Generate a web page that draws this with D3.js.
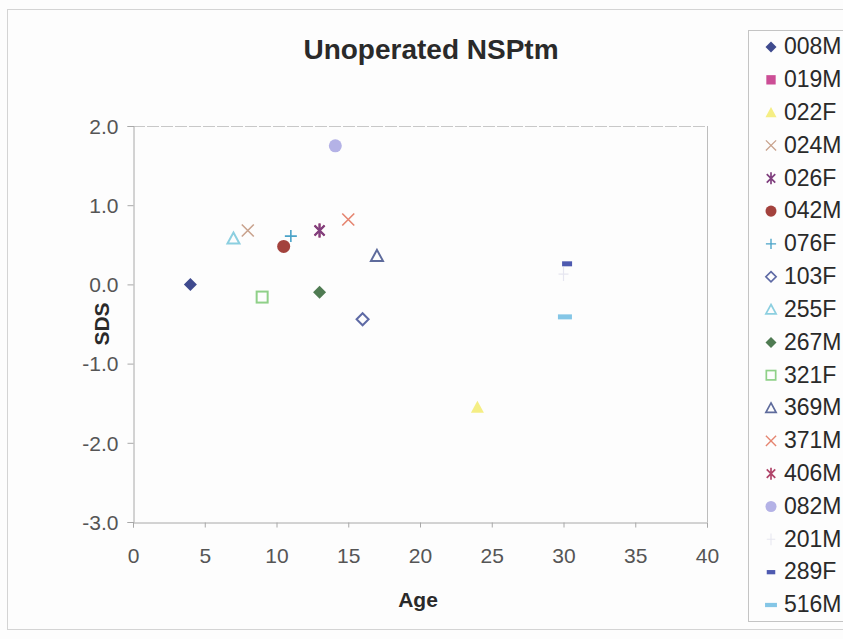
<!DOCTYPE html>
<html><head><meta charset="utf-8">
<script src="https://cdn.jsdelivr.net/npm/d3@7"></script>
<style>body{margin:0;background:#fff;}svg{display:block;font-family:"Liberation Sans",Arial,sans-serif;}</style>
</head><body><svg id="c" width="843" height="639"></svg>
<script>
const seriesNames = ["008M","019M","022F","024M","026F","042M","076F","103F","255F","267M","321F","369M","371M","406M","082M","201M","289F","516M"];
const seriesAge = [[4],[],[24],[8],[13],[10.5],[11],[16],[7],[13],[9],[17],[15],[13],[14.1],[30],[30.25],[30.1]];
const seriesSDS = [[0.0],[],[-1.55],[0.68],[0.68],[0.48],[0.61],[-0.44],[0.58],[-0.1],[-0.16],[0.36],[0.82],[0.68],[1.75],[0.13],[0.26],[-0.41]];
const seriesShape = ["diamond","square","triangle","x","star","circle","plus","diamondOpen","triangleOpen","diamond","squareOpen","triangleOpen","x","star","circle","plusFaint","dash","dashLong"];
const seriesColor = ["#3f4a8e","#cc4e96","#f5ee84","#c9a38e","#80407f","#a3423d","#4aa3c8","#5e6aa5","#8ccfe0","#4f7b52","#8fd088","#5e6b9c","#e58570","#b0456a","#b4b2e6","#e6e6f0","#4e5ab0","#84c6e6"];
const xTicks = [0,5,10,15,20,25,30,35,40];
const yTicks = [2.0,1.0,0.0,-1.0,-2.0,-3.0];

const svg = d3.select("#c");
svg.append("rect").attr("x",0).attr("y",0).attr("width",843).attr("height",639).attr("fill","#fdfdfd");
svg.append("rect").attr("x",7.5).attr("y",9.5).attr("width",850).attr("height",620).attr("fill","#fdfdfd").attr("stroke","#d4d4d4");

const L=133,R=707,T=126,B=522;
const x = d3.scaleLinear().domain([0,40]).range([L,R]);
const y = d3.scaleLinear().domain([-3,2]).range([B,T]);

svg.append("line").attr("x1",L).attr("x2",R).attr("y1",T+0.5).attr("y2",T+0.5).attr("stroke","#c8c8c8").attr("stroke-dasharray","12,2");
svg.append("line").attr("x1",R+0.5).attr("x2",R+0.5).attr("y1",T).attr("y2",B).attr("stroke","#bdbdbd");

const fmtY = d => d3.format(".1f")(d).replace("\u2212","-");
const xa = d3.axisBottom(x).tickValues(xTicks).tickSize(5).tickPadding(21).tickFormat(d3.format("d"));
const gx = svg.append("g").attr("transform",`translate(0,${B+0.5})`).call(xa);
const ya = d3.axisLeft(y).tickValues(yTicks).tickSize(6).tickPadding(9).tickFormat(fmtY);
const gy = svg.append("g").attr("transform",`translate(${L+0.5},0)`).call(ya);
[gx,gy].forEach(g=>{
  g.select(".domain").attr("stroke","#a8a8a8");
  g.selectAll(".tick line").attr("stroke","#a8a8a8");
  g.selectAll(".tick text").attr("fill","#555").attr("font-size","21px").attr("font-family","Liberation Sans, Arial, sans-serif");
});
gy.selectAll(".tick text").attr("dy","0.35em");

svg.append("text").attr("x",431).attr("y",59).attr("text-anchor","middle").attr("font-weight","bold").attr("font-size","28px").attr("fill","#2a2a2a").text("Unoperated NSPtm");
svg.append("text").attr("x",418).attr("y",607).attr("text-anchor","middle").attr("font-weight","bold").attr("font-size","21px").attr("fill","#2a2a2a").text("Age");
svg.append("text").attr("transform","translate(109,324) rotate(-90)").attr("text-anchor","middle").attr("font-weight","bold").attr("font-size","21px").attr("fill","#2a2a2a").text("SDS");

function drawMarker(g, shape, color){
  switch(shape){
    case "diamond": g.append("path").attr("d","M0,-6.5L6.5,0L0,6.5L-6.5,0Z").attr("fill",color); break;
    case "diamondOpen": g.append("path").attr("d","M0,-6L6,0L0,6L-6,0Z").attr("fill","none").attr("stroke",color).attr("stroke-width",2); break;
    case "square": g.append("rect").attr("x",-5.5).attr("y",-5.5).attr("width",11).attr("height",11).attr("fill",color); break;
    case "squareOpen": g.append("rect").attr("x",-5.5).attr("y",-5.5).attr("width",11).attr("height",11).attr("fill","none").attr("stroke",color).attr("stroke-width",2); break;
    case "triangle": g.append("path").attr("d","M0,-6.5L6.5,5.5L-6.5,5.5Z").attr("fill",color); break;
    case "triangleOpen": g.append("path").attr("d","M0,-6L6,5L-6,5Z").attr("fill","none").attr("stroke",color).attr("stroke-width",2); break;
    case "x": g.append("path").attr("d","M-6,-6L6,6M6,-6L-6,6").attr("stroke",color).attr("stroke-width",1.6); break;
    case "star": g.append("path").attr("d","M-5,-5L5,5M5,-5L-5,5M0,-7L0,7").attr("stroke",color).attr("stroke-width",2); break;
    case "plus": g.append("path").attr("d","M-6,0L6,0M0,-6L0,6").attr("stroke",color).attr("stroke-width",1.6); break;
    case "plusFaint": g.append("path").attr("d","M-5,0L5,0M0,-7L0,7").attr("stroke",color).attr("stroke-width",1.2); break;
    case "circle": g.append("circle").attr("r",6.5).attr("fill",color); break;
    case "dash": g.append("rect").attr("x",-5).attr("y",-2.5).attr("width",10).attr("height",5).attr("fill",color); break;
    case "dashLong": g.append("rect").attr("x",-7).attr("y",-2.5).attr("width",14).attr("height",5).attr("fill",color); break;
  }
}

d3.range(seriesNames.length).reverse().forEach(i=>{
  seriesAge[i].forEach((a,j)=>{
    const g = svg.append("g").attr("transform",`translate(${x(a)},${y(seriesSDS[i][j])})`);
    drawMarker(g, seriesShape[i], seriesColor[i]);
  });
});

svg.append("rect").attr("x",748.5).attr("y",30.5).attr("width",110).attr("height",591).attr("fill","#fdfdfd").attr("stroke","#c4c4c4");
const ly = d3.scaleLinear().domain([0,seriesNames.length-1]).range([46,604]);
seriesNames.forEach((n,i)=>{
  const g = svg.append("g").attr("transform",`translate(771,${ly(i)+1}) scale(0.85)`);
  drawMarker(g, seriesShape[i], seriesColor[i]);
  svg.append("text").attr("x",784).attr("y",ly(i)).attr("dy","0.36em").attr("font-size","23px").attr("fill","#2a2a2a").text(n);
});
</script></body></html>
